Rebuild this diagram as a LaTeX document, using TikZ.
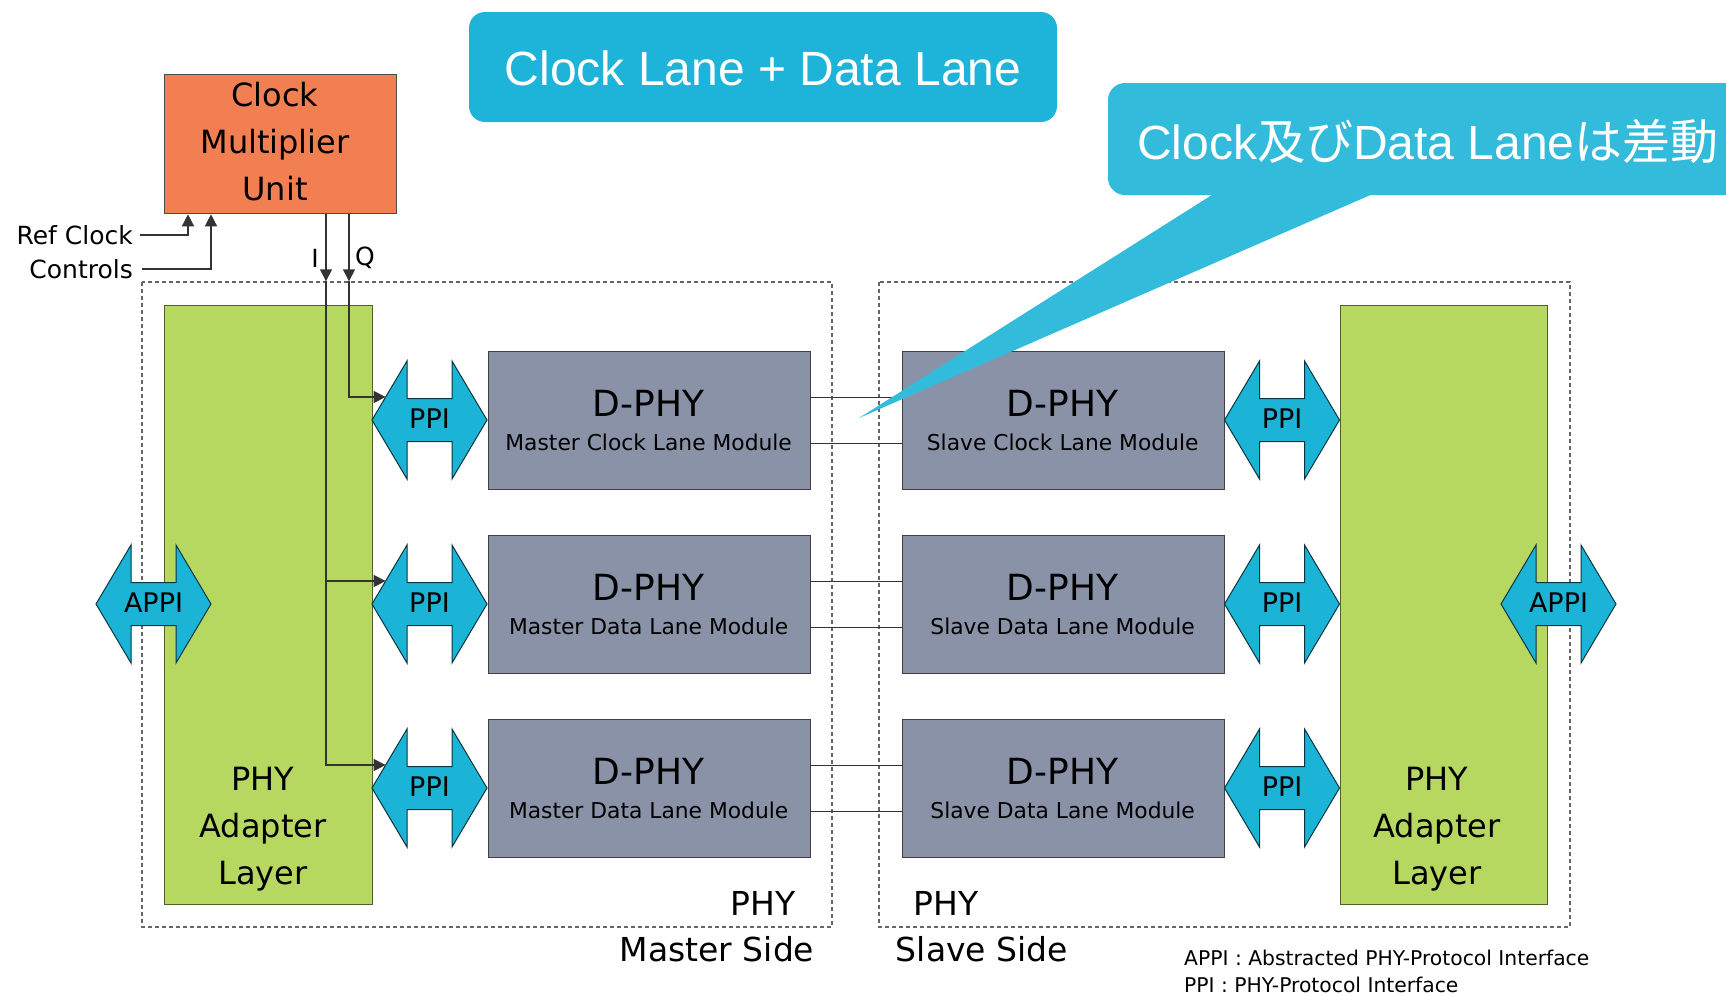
\documentclass[tikz,border=0pt]{standalone}
\usepackage{fontspec}
\setmainfont{DejaVu Sans}
\newfontfamily\arialf{Liberation Sans}
\newfontfamily\cjkf{Noto Sans CJK JP}
\usetikzlibrary{arrows.meta,calc}
\definecolor{cmuorange}{RGB}{242,127,82}
\definecolor{phygreen}{RGB}{182,215,96}
\definecolor{dphygray}{RGB}{138,146,168}
\definecolor{arrcyan}{RGB}{27,180,215}
\definecolor{callA}{RGB}{30,180,217}
\definecolor{callB}{RGB}{51,187,220}
\tikzset{
  dashbox/.style={draw=black!60, dash pattern=on 4pt off 3pt, line width=1.1pt},
  cmubox/.style={draw=black!70, fill=cmuorange, line width=1.3pt, anchor=north west, inner sep=0pt},
  greenbox/.style={draw=black!55!phygreen, fill=phygreen, line width=1.3pt, anchor=north west, inner sep=0pt},
  graybox/.style={draw=black!75, fill=dphygray, line width=1.3pt, anchor=north west, inner sep=0pt, minimum width=322pt, minimum height=138pt},
  wire/.style={draw=black!80, line width=1.4pt},
  tri/.style={-{Triangle[width=12pt,length=12pt]}},
  arrowshape/.style={draw=black!70!arrcyan, fill=arrcyan, line width=1pt, line join=miter},
  arrowlabel/.style={inner sep=0pt, font=\fontsize{27}{30}\selectfont},
  bigtxt/.style={inner sep=0pt, align=center, font=\fontsize{32}{47}\selectfont},
  dphytxt/.style={inner sep=0pt, font=\fontsize{36}{40}\selectfont},
  subtxt/.style={inner sep=0pt, font=\fontsize{21.8}{26}\selectfont},
  sidetxt/.style={inner sep=0pt, font=\fontsize{33}{40}\selectfont},
  smalltxt/.style={inner sep=0pt, font=\fontsize{25}{28}\selectfont},
  legendtxt/.style={inner sep=0pt, anchor=west, font=\fontsize{20.3}{24}\selectfont},
  dblarr/.pic={
    \draw[arrowshape] (-57.5,0) -- (-22.5,-59) -- (-22.5,-21.5) -- (22.5,-21.5) -- (22.5,-59)
      -- (57.5,0) -- (22.5,59) -- (22.5,21.5) -- (-22.5,21.5) -- (-22.5,59) -- cycle;
    \coordinate (-in) at (-43.9,-23);
    \node[arrowlabel] (-txt) at (0,-1) {\tikzpictext};
  }
}
\begin{document}
\begin{tikzpicture}[x=1pt,y=-1pt]
\useasboundingbox (0,0) rectangle (1726,994);
\clip (0,0) rectangle (1726,994);

% dashed PHY boxes
\draw[dashbox] (142,282) rectangle (832,927);
\draw[dashbox] (879,282) rectangle (1570,927);

% PHY adapter layers
\node[greenbox, minimum width=208pt, minimum height=599pt] (gl) at (164,305) {};
\node[greenbox, minimum width=207pt, minimum height=599pt] (gr) at (1340,305) {};
\node[bigtxt] (gltxt) at (263,829) {PHY\\Adapter\\Layer};
\node[bigtxt] (grtxt) at (1437,829) {PHY\\Adapter\\Layer};

% Clock multiplier unit
\node[cmubox, minimum width=232pt, minimum height=139pt] (cmu) at (164,74) {};
\node[bigtxt] (cmutxt) at (275,142) {Clock\\Multiplier\\Unit};

% D-PHY modules
\node[graybox] (m1) at (488,351) {};
\node[graybox] (m2) at (488,535) {};
\node[graybox] (m3) at (488,719) {};
\node[graybox] (s1) at (902,351) {};
\node[graybox] (s2) at (902,535) {};
\node[graybox] (s3) at (902,719) {};
\foreach \b/\t in {m1/Master Clock Lane Module, m2/Master Data Lane Module, m3/Master Data Lane Module,
                   s1/Slave Clock Lane Module, s2/Slave Data Lane Module, s3/Slave Data Lane Module}{
  \node[dphytxt] (\b-h) at ($(\b.center)+(-1,-17)$) {D-PHY};
  \node[subtxt] (\b-s) at ($(\b.center)+(-1,22)$) {\t};
}

% lane wires between master and slave
\foreach \i in {1,2,3}{
  \draw[wire] ($(m\i.east)+(0,-23)$) -- ($(s\i.west)+(0,-23)$);
  \draw[wire] ($(m\i.east)+(0,23)$) -- ($(s\i.west)+(0,23)$);
}

% PPI / APPI arrows
\pic[pic text=PPI] (pl1) at (429.5,420) {dblarr};
\pic[pic text=PPI] (pl2) at (429.5,604) {dblarr};
\pic[pic text=PPI] (pl3) at (429.5,788) {dblarr};
\pic[pic text=PPI] (pr1) at (1282,420) {dblarr};
\pic[pic text=PPI] (pr2) at (1282,604) {dblarr};
\pic[pic text=PPI] (pr3) at (1282,788) {dblarr};
\pic[pic text=APPI] (al) at (153.5,604) {dblarr};
\pic[pic text=APPI] (ar) at (1558.5,604) {dblarr};

% I and Q clock wires
\coordinate (Itop) at ($(cmu.south west)+(162,0)$);
\coordinate (Qtop) at ($(cmu.south west)+(185,0)$);
\coordinate (Iarr) at ($(Itop)+(0,67)$);
\coordinate (Qarr) at ($(Qtop)+(0,67)$);
\draw[wire,tri] (Itop) -- (Iarr);
\draw[wire,tri] (Qtop) -- (Qarr);
\draw[wire,tri] (Iarr) |- (pl3-in);
\draw[wire,tri] (Iarr |- pl2-in) -- (pl2-in);
\draw[wire,tri] (Qarr) |- (pl1-in);
\node[smalltxt] (ilab) at (315,258) {I};
\node[smalltxt] (qlab) at (365,258) {Q};

% Ref clock / controls
\node[smalltxt, anchor=east] (refclk) at (133,235) {Ref Clock};
\node[smalltxt, anchor=east] (ctrl) at (133,269) {Controls};
\coordinate (rcin) at ($(cmu.south west)+(24,0)$);
\coordinate (ctin) at ($(cmu.south west)+(47,0)$);
\draw[wire,tri] ([xshift=7pt]refclk.east) -| (rcin);
\draw[wire,tri] ([xshift=9pt]ctrl.east) -| (ctin);

% side labels
\node[sidetxt] (phym) at (763,903) {PHY};
\node[sidetxt] (mside) at (717,949) {Master Side};
\node[sidetxt] (phys) at (946,903) {PHY};
\node[sidetxt] (sside) at (982,949) {Slave Side};

% legend
\node[legendtxt] (leg1) at (1184,958) {APPI : Abstracted PHY-Protocol Interface};
\node[legendtxt] (leg2) at (1184,985) {PPI : PHY-Protocol Interface};

% callouts
\fill[callA, rounded corners=16pt] (469,12) rectangle (1057,122);
\node[inner sep=0pt, text=white, font={\arialf\fontsize{48}{56}\selectfont}] (c1) at (763,68) {Clock Lane + Data Lane};
\fill[callB, rounded corners=17pt] (1108,83) rectangle (1790,195);
\fill[callB] (1215,193) -- (1375,193) -- (859,418) -- cycle;
\node[inner sep=0pt, anchor=west, text=white, font={\arialf\fontsize{48}{56}\selectfont}] (c2) at (1137,141)
  {Clock{\cjkf 及び}Data Lane{\cjkf は差動}};
\end{tikzpicture}
\end{document}
